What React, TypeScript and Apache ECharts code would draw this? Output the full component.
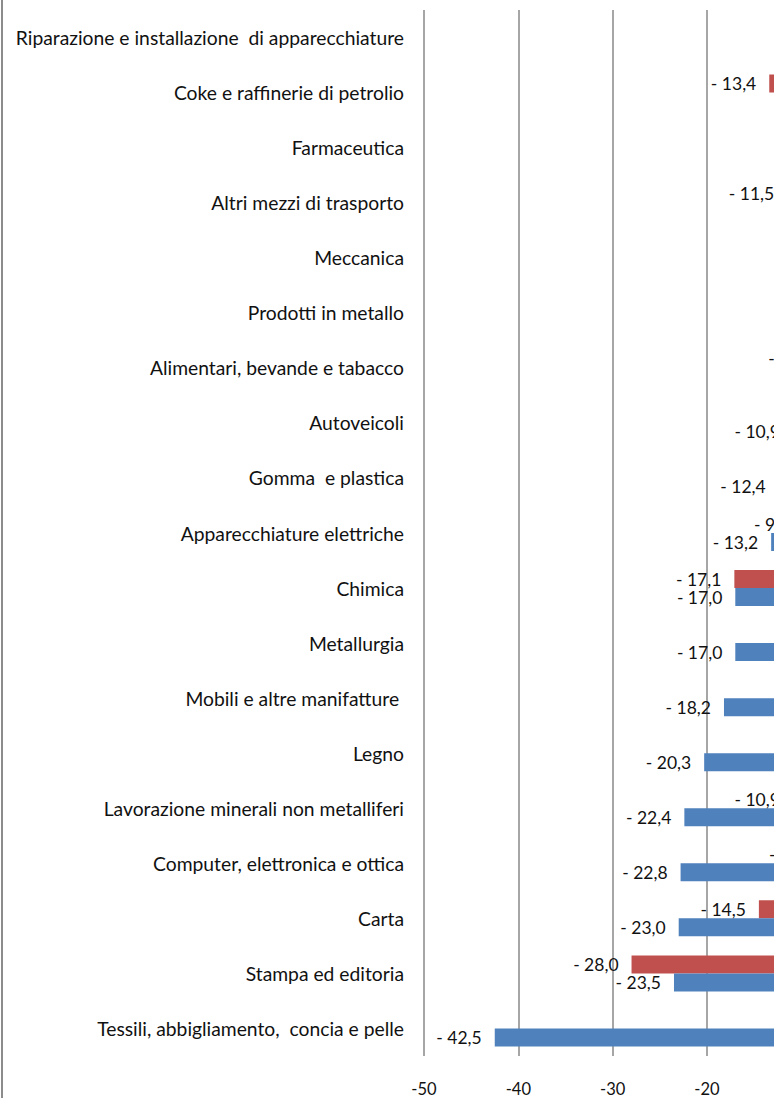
import React, { useEffect, useRef } from "react";
import * as echarts from "echarts";

const categories = [
  "Riparazione e installazione  di apparecchiature",
  "Coke e raffinerie di petrolio",
  "Farmaceutica",
  "Altri mezzi di trasporto",
  "Meccanica",
  "Prodotti in metallo",
  "Alimentari, bevande e tabacco",
  "Autoveicoli",
  "Gomma  e plastica",
  "Apparecchiature elettriche",
  "Chimica",
  "Metallurgia",
  "Mobili e altre manifatture ",
  "Legno",
  "Lavorazione minerali non metalliferi",
  "Computer, elettronica e ottica",
  "Carta",
  "Stampa ed editoria",
  "Tessili, abbigliamento,  concia e pelle",
];

// red series (upper bar of each pair)
const redValues = [
  -2.1, -13.4, -1.5, -11.5, -4.0, -5.5, -8.4, -5.2, -3.8, -9.9,
  -17.1, -6.0, -5.5, -4.0, -10.9, -8.3, -14.5, -28.0, -6.5,
];
// blue series (lower bar of each pair)
const blueValues = [
  -4.5, -5.0, -3.2, -6.0, -6.5, -6.3, -4.5, -10.9, -12.4, -13.2,
  -17.0, -17.0, -18.2, -20.3, -22.4, -22.8, -23.0, -23.5, -42.5,
];

const xMin = -50;
const xMax = 10;
const xStep = 10;

const fmt = (v: number) =>
  (v < 0 ? "- " : "") + Math.abs(v).toFixed(1).replace(".", ",");

const FONT = "Lato";

export default function App() {
  const ref = useRef<HTMLDivElement>(null);
  useEffect(() => {
    if (!ref.current) return;
    const chart = echarts.init(ref.current, undefined, { renderer: "svg" });
    const label = {
      show: true,
      position: "left" as const,
      distance: 13,
      formatter: (p: any) => fmt(p.value),
      fontFamily: FONT,
      fontSize: 17.5,
      color: "#111",
    };
    chart.setOption({
      animation: false,
      backgroundColor: "#fff",
      grid: { left: 424, top: 10, bottom: 42, width: 566 },
      xAxis: {
        type: "value",
        min: xMin,
        max: xMax,
        interval: xStep,
        axisLine: { show: false },
        axisTick: { show: false },
        splitLine: { show: true, lineStyle: { color: "#a6a6a6", width: 2 } },
        axisLabel: {
          margin: 24,
          fontFamily: FONT,
          fontSize: 16.5,
          color: "#111",
        },
      },
      yAxis: {
        type: "category",
        inverse: true,
        data: categories,
        position: "left",
        axisLine: { show: false, onZero: false },
        axisTick: { show: false },
        axisLabel: {
          margin: 20,
          fontFamily: FONT,
          fontSize: 19.3,
          color: "#111",
        },
      },
      graphic: [
        {
          type: "line",
          shape: { x1: 2, y1: 0, x2: 2, y2: 1098 },
          style: { stroke: "#8c8c8c", lineWidth: 2 },
        },
      ],
      series: [
        {
          type: "bar",
          data: redValues,
          barWidth: 18,
          barGap: "0%",
          itemStyle: { color: "#C0504D" },
          label,
        },
        {
          type: "bar",
          data: blueValues,
          barWidth: 18,
          barGap: "0%",
          itemStyle: { color: "#4F81BD" },
          label,
        },
      ],
    });
    return () => chart.dispose();
  }, []);
  return (
    <div
      style={{
        position: "fixed",
        left: 0,
        top: 0,
        width: 774,
        height: 1098,
        overflow: "hidden",
        background: "#fff",
      }}
    >
      <div ref={ref} style={{ width: 1040, height: 1098 }} />
    </div>
  );
}
